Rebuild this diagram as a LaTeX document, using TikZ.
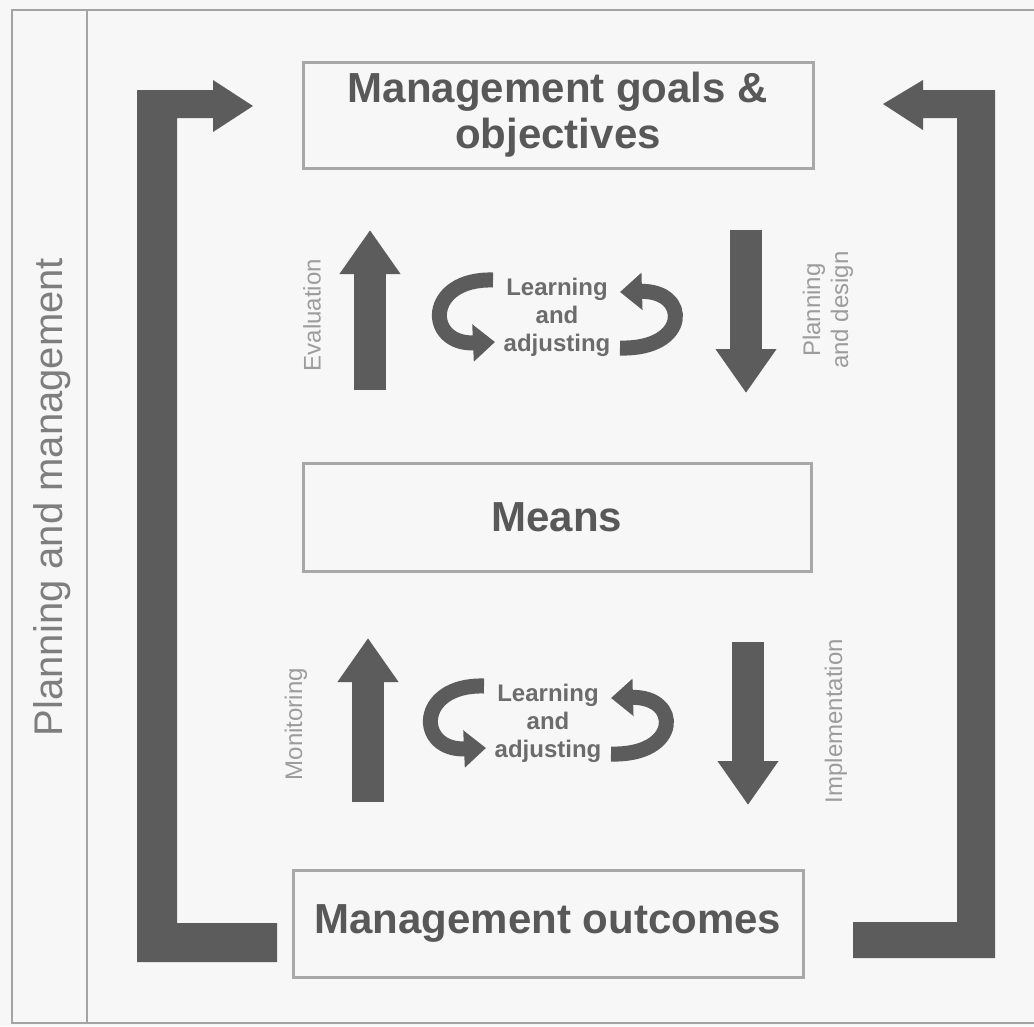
\documentclass[tikz,border=0pt]{standalone}
\usepackage{fontspec}
\setmainfont{Liberation Sans}
\usetikzlibrary{arrows.meta}
\definecolor{bgcol}{HTML}{F7F7F7}
\definecolor{arrowgray}{HTML}{5C5C5C}
\definecolor{framegray}{HTML}{A4A4A4}
\definecolor{boxgray}{HTML}{A8A8A8}
\definecolor{boxtext}{HTML}{585858}
\definecolor{labelgray}{HTML}{9C9C9C}
\definecolor{learngray}{HTML}{6C6C6C}
\definecolor{sidegray}{HTML}{7E7E7E}
\tikzset{
  frameline/.style={draw=framegray, line width=2.5pt},
  box/.style={draw=boxgray, line width=3pt, fill=none, align=center,
    text=boxtext, font=\fontsize{42}{46}\selectfont\bfseries, inner sep=0pt},
  blockarrow/.style={draw=arrowgray, line width=32pt,
    -{Triangle[width=58pt,length=44pt]}},
  circarrow/.style={draw=arrowgray, line width=15pt,
    -{Triangle[width=36pt,length=22pt]}},
  brackfill/.style={fill=arrowgray},
  sidelabel/.style={text=labelgray, rotate=90, align=center,
    font=\fontsize{24}{28}\selectfont, inner sep=0pt},
  learnlabel/.style={text=learngray, align=center,
    font=\fontsize{24}{28}\selectfont\bfseries, inner sep=0pt}
}
\begin{document}
\begin{tikzpicture}[x=1pt,y=-1pt]
\fill[bgcol] (0,0) rectangle (1034,1026);
\useasboundingbox (0,0) rectangle (1034,1026);

% frame
\draw[frameline] (1034,10) -- (12,10) -- (12,1023) -- (1034,1023);
\draw[frameline] (87,10) -- (87,1023);
\node[text=sidegray, rotate=90, font=\fontsize{40}{44}\selectfont, inner sep=0pt] (pm) at (52,497) {Planning and management};

% boxes
\node[box, minimum width=510pt, minimum height=106pt] (goals) at (558,115) {Management goals \&\\objectives};
\node[box, minimum width=508pt, minimum height=108pt] (means) at (557,517) {Means};
\node[box, minimum width=510pt, minimum height=107pt] (outcomes) at (548,923.5) {Management outcomes};

% bracket arrows
\fill[brackfill] (253,106) -- (213,80) -- (213,90) -- (137,90) -- (137,962) -- (277,962) -- (277,923) -- (177,923) -- (177,118) -- (213,118) -- (213,132) -- cycle;
\fill[brackfill] (883,104) -- (923,80) -- (923,90) -- (995,90) -- (995,958) -- (853,958) -- (853,922) -- (957,922) -- (957,118) -- (923,118) -- (923,130) -- cycle;

% upper loop
\coordinate (evalS) at (370,390);
\coordinate (evalE) at (370,230);
\coordinate (planS) at (746,230);
\coordinate (planE) at (746,393);
\draw[blockarrow] (evalS) -- (evalE);
\draw[blockarrow] (planS) -- (planE);
\node[sidelabel] (evallab) at (312,315) {Evaluation};
\node[sidelabel] (planlab) at (828,310) {Planning\\and design};
\node[learnlabel] (learn1) at (557,317) {Learning\\and\\adjusting};
\draw[circarrow] (493,280) .. controls (425,278) and (425,345) .. (495,342);
\draw[circarrow] (620,348) .. controls (690,350) and (690,290) .. (620,292);

% lower loop
\coordinate (monS) at (368,802);
\coordinate (monE) at (368,638);
\coordinate (impS) at (748,642);
\coordinate (impE) at (748,805);
\draw[blockarrow] (monS) -- (monE);
\draw[blockarrow] (impS) -- (impE);
\node[sidelabel] (monlab) at (296,724) {Monitoring};
\node[sidelabel] (implab) at (836,721) {Implementation};
\begin{scope}[shift={(-9,406)}]
\node[learnlabel] (learn2) at (557,317) {Learning\\and\\adjusting};
\draw[circarrow] (493,280) .. controls (425,278) and (425,345) .. (495,342);
\draw[circarrow] (620,348) .. controls (690,350) and (690,290) .. (620,292);
\end{scope}
\end{tikzpicture}
\end{document}
